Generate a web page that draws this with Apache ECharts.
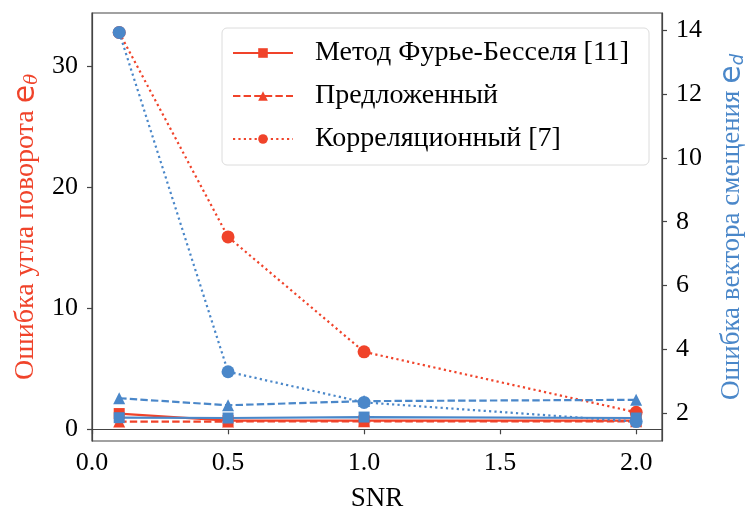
<!DOCTYPE html>
<html>
	<head>
		<meta charset="utf-8">
		<title>SNR</title>
		<script src="https://cdn.jsdelivr.net/npm/echarts@6/dist/echarts.min.js"></script>
	</head>
	<body style="margin:0;padding:0;background:#fff">
		<div id="chart" style="width: 752px;height:509px;"></div>
	</body>
	<script type="text/javascript">
var chart = echarts.init(document.getElementById('chart'));

// данные
var snr = [0.1, 0.5, 1.0, 2.0];
var xTicks = [0, 0.5, 1.0, 1.5, 2.0];
var leftTicks = [0, 10, 20, 30];
var rightTicks = [2, 4, 6, 8, 10, 12, 14];

var names = ['Метод Фурье-Бесселя [11]', 'Предложенный', 'Корреляционный [7]'];

// ошибка угла поворота (левая ось)
var rotFourier = [1.3, 0.72, 0.72, 0.72];
var rotProposed = [0.64, 0.64, 0.66, 0.66];
var rotCorr = [32.8, 15.9, 6.4, 1.4];

// ошибка вектора смещения (правая ось)
var shiftFourier = [1.86, 1.85, 1.88, 1.85];
var shiftProposed = [2.47, 2.25, 2.38, 2.42];
var shiftCorr = [13.93, 3.3, 2.34, 1.74];

var RED = '#f0432a';
var BLUE = '#4a87c9';
var FONT = '"Liberation Serif", "Times New Roman", Times, serif';

function pairs(ys) {
    return snr.map(function(x, i) { return [x, ys[i]]; });
}

var styles = [
    { symbol: 'rect', size: 11, dash: 'solid' },
    { symbol: 'triangle', size: 12, dash: [7.4, 3.2] },
    { symbol: 'circle', size: 13, dash: [2.2, 3.2] }
];

function line(name, ys, color, axis, st) {
    return {
        name: name,
        type: 'line',
        yAxisIndex: axis,
        data: pairs(ys),
        symbol: st.symbol,
        symbolSize: st.size,
        showAllSymbol: true,
        itemStyle: { color: color },
        lineStyle: { color: color, width: 2.2, type: st.dash },
        emphasis: { disabled: true },
        animation: false
    };
}

var series = [
    line(names[0], rotFourier, RED, 0, styles[0]),
    line(names[1], rotProposed, RED, 0, styles[1]),
    line(names[2], rotCorr, RED, 0, styles[2]),
    line(names[0] + ' ', shiftFourier, BLUE, 1, styles[0]),
    line(names[1] + ' ', shiftProposed, BLUE, 1, styles[1]),
    line(names[2] + ' ', shiftCorr, BLUE, 1, styles[2])
];

var axisCommon = {
    axisLine: { show: true, lineStyle: { color: '#444', width: 1.2 } },
    axisTick: { show: true, length: 5, inside: false, lineStyle: { color: '#444', width: 1.2 } },
    splitLine: { show: false }
};

var option = {
    backgroundColor: '#fff',
    animation: false,
    grid: {
        left: 92, right: 90, top: 13, bottom: 68,
        containLabel: false,
        outerBoundsMode: 'none',
        show: true, borderColor: '#444', borderWidth: 1.2
    },
    legend: {
        data: names,
        orient: 'vertical',
        left: 222,
        top: 28,
        padding: [10, 12, 11, 10],
        itemWidth: 60,
        itemHeight: 12,
        itemGap: 13,
        backgroundColor: '#fff',
        borderColor: '#dcdcdc',
        borderWidth: 1,
        borderRadius: 5,
        textStyle: {
            fontFamily: FONT, fontSize: 28, color: '#000',
            width: 322, padding: [0, 0, 0, 17], lineHeight: 30
        }
    },
    xAxis: [Object.assign({}, axisCommon, {
        type: 'value',
        min: 0,
        max: 2.095,
        name: 'SNR',
        nameLocation: 'middle',
        nameGap: 44,
        nameTextStyle: { fontFamily: FONT, fontSize: 27, color: '#000' },
        axisTick: Object.assign({}, axisCommon.axisTick, { customValues: xTicks }),
        axisLabel: {
            customValues: xTicks,
            fontFamily: FONT, fontSize: 26, color: '#000', margin: 9,
            formatter: function(v) { return v.toFixed(1); }
        }
    })],
    yAxis: [
        Object.assign({}, axisCommon, {
            type: 'value',
            position: 'left',
            min: -0.968,
            max: 34.41,
            name: '{t|Ошибка угла поворота }{e|e}{s|θ}',
            nameLocation: 'middle',
            nameRotate: 90,
            nameGap: 50,
            nameTextStyle: {
                color: RED,
                rich: {
                    t: { fontFamily: FONT, fontSize: 28, color: RED },
                    e: { fontFamily: 'DejaVu Sans', fontSize: 30, color: RED },
                    s: { fontFamily: 'DejaVu Serif', fontStyle: 'italic', fontSize: 18, color: RED, padding: [12, 0, 0, 0] }
                }
            },
            axisTick: Object.assign({}, axisCommon.axisTick, { customValues: leftTicks }),
            axisLabel: {
                customValues: leftTicks,
                fontFamily: FONT, fontSize: 26, color: '#000', margin: 14
            }
        }),
        Object.assign({}, axisCommon, {
            type: 'value',
            position: 'right',
            min: 1.13,
            max: 14.54,
            name: '{t|Ошибка вектора смещения }{e|e}{s|d}',
            nameLocation: 'middle',
            nameRotate: 90,
            nameGap: 55,
            nameTextStyle: {
                color: BLUE,
                rich: {
                    t: { fontFamily: FONT, fontSize: 27, color: BLUE },
                    e: { fontFamily: 'DejaVu Sans', fontSize: 30, color: BLUE },
                    s: { fontFamily: 'DejaVu Sans', fontStyle: 'italic', fontSize: 18, color: BLUE, padding: [12, 0, 0, 0] }
                }
            },
            axisTick: Object.assign({}, axisCommon.axisTick, { customValues: rightTicks }),
            axisLabel: {
                customValues: rightTicks,
                fontFamily: FONT, fontSize: 26, color: '#000', margin: 14
            }
        })
    ],
    series: series
};

chart.setOption(option);
	</script>
</html>
